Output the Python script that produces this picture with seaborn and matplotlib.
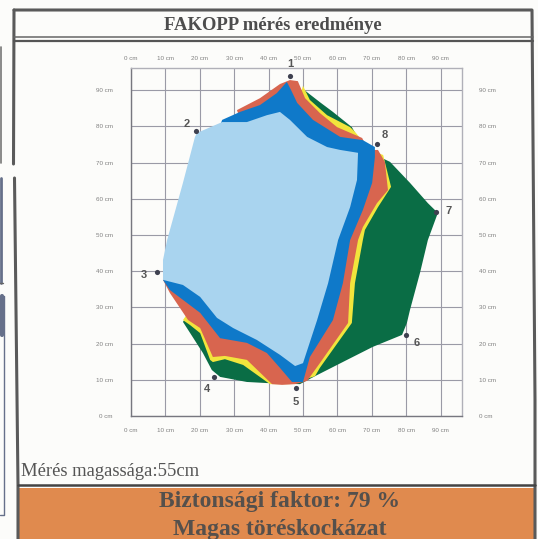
import matplotlib
matplotlib.use('Agg')
import matplotlib.pyplot as plt
import seaborn as sns
import pandas as pd

# --- DATA (all in cm) ---
x_ticks = [0, 10, 20, 30, 40, 50, 60, 70, 80, 90]
y_ticks = [0, 10, 20, 30, 40, 50, 60, 70, 80, 90]

sensor_ids = ['1', '2', '3', '4', '5', '6', '7', '8']
sensor_x = [46.2, 18.9, 7.6, 24.1, 48.0, 80.0, 88.7, 71.5]
sensor_y = [93.9, 78.7, 39.8, 10.8, 7.7, 22.4, 56.4, 75.1]

green_x = [50.3, 54.9, 58.7, 64.2, 68.0, 75.3, 81.1, 86.3, 89.2, 86.3, 84.0, 81.1, 80.2, 78.8, 70.3, 62.8, 54.1, 49.1, 39.5, 33.7, 25.9, 23.5, 20.9, 17.2, 15.1, 40.0]
green_y = [90.1, 86.7, 84.0, 79.8, 73.5, 70.2, 64.4, 58.8, 56.1, 48.6, 39.5, 29.3, 25.7, 22.4, 19.1, 15.5, 11.3, 8.8, 9.1, 9.4, 10.8, 12.7, 17.4, 22.9, 26.0, 60.0]

yellow_x = [50.0, 52.0, 57.0, 63.7, 65.1, 69.5, 73.3, 75.6, 71.8, 68.0, 67.4, 65.1, 64.2, 54.9, 53.5, 46.2, 40.4, 32.6, 27.3, 23.8, 23.0, 20.1, 17.2, 15.1, 40.0]
yellow_y = [91.2, 87.3, 83.1, 79.8, 78.5, 73.5, 72.1, 63.3, 57.7, 51.4, 48.6, 36.7, 25.7, 13.3, 11.0, 8.8, 8.8, 14.1, 15.7, 14.9, 15.5, 22.9, 25.1, 26.5, 60.0]

red_x = [30.8, 37.5, 43.3, 46.2, 48.5, 50.6, 54.9, 59.9, 67.2, 68.9, 71.8, 73.8, 74.7, 71.5, 67.4, 66.0, 63.7, 63.1, 54.9, 51.2, 47.7, 43.9, 41.0, 33.7, 27.3, 23.8, 20.1, 16.6, 11.3, 9.3, 40.0]
red_y = [84.5, 87.8, 91.7, 92.8, 92.5, 87.8, 83.7, 79.8, 76.8, 73.5, 73.5, 70.2, 62.4, 58.8, 52.2, 48.6, 36.7, 25.7, 14.6, 9.7, 8.8, 8.6, 8.8, 15.5, 16.6, 16.3, 24.3, 26.5, 34.0, 37.6, 60.0]

blue_x = [26.5, 31.7, 37.5, 42.4, 45.3, 46.5, 48.3, 52.9, 60.8, 67.4, 70.9, 70.9, 70.1, 67.4, 63.7, 61.6, 58.7, 52.0, 50.0, 46.8, 43.3, 39.5, 33.7, 25.9, 20.1, 11.3, 9.3]
blue_y = [81.8, 84.0, 85.9, 89.2, 92.3, 90.1, 86.5, 81.8, 77.1, 76.2, 74.3, 71.5, 64.4, 56.9, 48.6, 36.7, 26.5, 16.3, 9.4, 9.4, 13.3, 17.4, 20.2, 21.5, 28.5, 34.8, 37.6]

light_x = [19.2, 26.5, 33.7, 39.5, 43.3, 46.2, 51.2, 57.0, 60.8, 66.0, 65.7, 63.7, 60.2, 57.3, 54.1, 50.0, 47.7, 43.3, 36.6, 29.7, 25.0, 20.1, 15.1, 9.3, 9.3, 10.5, 15.1, 18.6]
light_y = [78.2, 81.2, 81.2, 83.1, 84.0, 81.8, 77.1, 74.3, 73.5, 72.7, 65.2, 57.7, 48.6, 36.7, 26.5, 14.6, 13.8, 16.9, 21.0, 24.3, 27.1, 32.9, 36.2, 37.6, 43.1, 48.6, 64.4, 77.1]

W, H = 538, 539
PAPER = '#fcfcfa'
sns.set_theme(style='white')
plt.rcParams['font.family'] = ['Liberation Serif', 'DejaVu Serif']

fig = plt.figure(figsize=(W / 100, H / 100), dpi=100, facecolor=PAPER)

# whole page in pixels, for the form around the chart
page = fig.add_axes([0, 0, 1, 1], facecolor=PAPER)
page.set_xlim(0, W)
page.set_ylim(H, 0)
page.axis('off')
page.add_patch(plt.Rectangle((18, 488), 516, 51, fc='#e08a4e', ec='none'))
# the scan is a little skewed, so the frame drifts
page.plot([13.5, 14], [164, 10], color='#5a5a5a', lw=2.2)
page.plot([14, 532, 535, 535], [10, 10, 400, 539], color='#5a5a5a', lw=2.2)
page.plot([14.5, 18, 18], [178, 485, 539], color='#5a5a5a', lw=2.2)
page.plot([14, 533], [37, 37], color='#666666', lw=1.1)
page.plot([14, 533], [41, 41], color='#555555', lw=1.6)
page.plot([18, 535], [485, 485], color='#444444', lw=1.8)
# edge of the neighbouring form in the scan
page.plot([0.5, 0.5], [47, 163], color='#777777', lw=1.2)
page.plot([1, 1], [178, 283], color='#66708a', lw=2)
page.plot([0, 3], [283, 283], color='#666666', lw=1)
page.plot([0, 4, 4, 0], [296, 296, 515, 515], color='#66708a', lw=1)
page.plot([1.5, 1.5], [296, 335], color='#66708a', lw=3)

page.text(273, 25, 'FAKOPP mérés eredménye', ha='center', va='center', fontsize=13.4, fontweight='bold', color='#4d4d4d')
page.text(21, 471, 'Mérés magassága:55cm', ha='left', va='center', fontsize=13.4, color='#555555')
page.text(280, 502, 'Biztonsági faktor: 79 %', ha='center', va='center', fontsize=17, fontweight='bold', color='#55504c')
page.text(280, 534.5, 'Magas töréskockázat', ha='center', va='baseline', fontsize=17, fontweight='bold', color='#55504c')

# chart, 3.44 px per cm across and 3.62 px per cm up
ax = fig.add_axes([131 / W, 1 - 416 / H, 331 / W, 348 / H], facecolor='none')
ax.set_xlim(0, 331 / 3.44)
ax.set_ylim(0, 348 / 3.62)

ax.set_xticks(x_ticks)
ax.set_yticks(y_ticks)
ax.set_xticklabels([f'{v} cm' for v in x_ticks], family='Liberation Sans')
ax.set_yticklabels([f'{v} cm' for v in y_ticks], family='Liberation Sans')
ax.tick_params(axis='x', length=0, labelsize=4.5, colors='#808080', pad=9)
ax.tick_params(axis='y', length=0, labelsize=4.5, colors='#808080', pad=13)
ax.grid(True, color='#9a9aa6', lw=0.8)
ax.set_axisbelow(True)
for name, spine in ax.spines.items():
    spine.set_visible(True)
    spine.set_color('#b0b0b8' if name in ('top', 'right') else '#77777f')
    spine.set_linewidth(1.0)

top = ax.secondary_xaxis('top')
top.set_xticks(x_ticks)
top.set_xticklabels([f'{v} cm' for v in x_ticks], family='Liberation Sans')
top.tick_params(length=0, labelsize=4.5, colors='#808080', pad=5)
top.spines['top'].set_visible(False)
right = ax.secondary_yaxis('right')
right.set_yticks(y_ticks)
right.set_yticklabels([f'{v} cm' for v in y_ticks], family='Liberation Sans')
right.tick_params(length=0, labelsize=4.5, colors='#808080', pad=12)
right.spines['right'].set_visible(False)

for xs, ys, c in [(green_x, green_y, '#0a6d45'),
                  (yellow_x, yellow_y, '#f2e53c'),
                  (red_x, red_y, '#d8654f'),
                  (blue_x, blue_y, '#0f79c9'),
                  (light_x, light_y, '#a9d4ef')]:
    ax.fill(xs, ys, color=c, lw=0, zorder=2)

sensors = pd.DataFrame({'x': sensor_x, 'y': sensor_y, 'id': sensor_ids})
sns.scatterplot(data=sensors, x='x', y='y', color='#3f4150', s=14, linewidth=0, ax=ax, zorder=3, clip_on=False)
ax.set_xlabel('')
ax.set_ylabel('')

label_offset = {'1': (0, 12), '2': (-9, 7), '3': (-13, -3), '4': (-7, -12), '5': (0, -14), '6': (10, -8), '7': (12, 1), '8': (8, 9)}
for row in sensors.itertuples():
    dx, dy = label_offset[row.id]
    ax.annotate(row.id, (row.x, row.y), xytext=(dx * 0.72, dy * 0.72), textcoords='offset points',
                ha='center', va='center', fontsize=8, fontweight='bold', color='#555555',
                family='Liberation Sans', zorder=4)

fig.savefig('out.png', dpi=100, facecolor=PAPER)
